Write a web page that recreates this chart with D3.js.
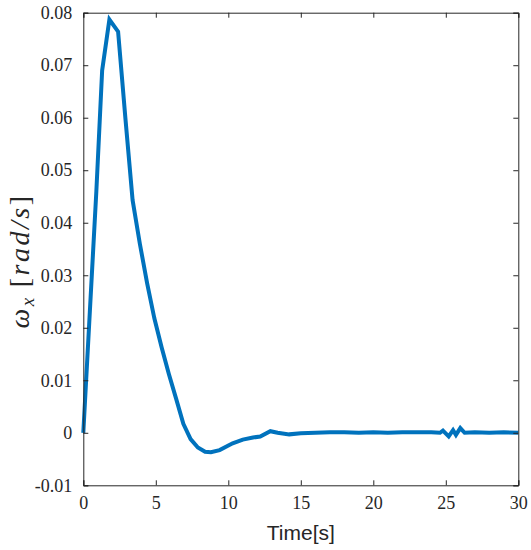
<!DOCTYPE html>
<html>
<head>
<meta charset="utf-8">
<script src="https://cdn.jsdelivr.net/npm/d3@7"></script>
<style>
  html, body { margin: 0; padding: 0; background: #fff; }
  svg { display: block; }
</style>
</head>
<body>
<svg id="chart" width="531" height="550"></svg>
<script>
// Data
const timeValues = [0, 0.45, 0.9, 1.3, 1.8, 2.4, 2.9, 3.4, 3.9, 4.4, 4.9, 5.4, 5.9, 6.4, 6.9, 7.4, 7.9, 8.4, 8.8, 9.4, 10.3, 11.0, 11.7, 12.2, 12.9, 13.4, 14.2, 15, 16, 17, 18, 19, 20, 21, 22, 23, 24, 24.6, 24.8, 25.2, 25.5, 25.7, 26.0, 26.3, 27, 28, 29, 30];
const omegaX =     [0, 0.023, 0.046, 0.069, 0.0787, 0.0764, 0.0600, 0.0443, 0.0360, 0.0285, 0.0218, 0.0163, 0.0112, 0.0065, 0.0017, -0.0012, -0.0028, -0.0036, -0.0037, -0.0033, -0.0020, -0.0013, -0.0009, -0.0007, 0.0003, 0.0000, -0.0003, -0.0001, 0.0000, 0.0001, 0.0001, 0.0000, 0.0001, 0.0000, 0.0001, 0.0001, 0.0001, 0.0000, 0.0004, -0.0007, 0.0005, -0.0004, 0.0009, 0.0000, 0.0001, 0.0000, 0.0001, 0.0000];
const xTicks = [0, 5, 10, 15, 20, 25, 30];
const yTicks = [-0.01, 0, 0.01, 0.02, 0.03, 0.04, 0.05, 0.06, 0.07, 0.08];
const yTickLabels = ["-0.01", "0", "0.01", "0.02", "0.03", "0.04", "0.05", "0.06", "0.07", "0.08"];
const xLabel = "Time[s]";

const svg = d3.select("#chart");
const pLeft = 83.3, pRight = 518.3, pTop = 12.7, pBottom = 485.3;
const axisColor = "#262626";
const lineColor = "#0072BD";

const x = d3.scaleLinear().domain([0, 30]).range([pLeft, pRight]);
const y = d3.scaleLinear().domain([-0.01, 0.08]).range([pBottom, pTop]);

const serif = "Liberation Serif, DejaVu Serif, serif";

const pts = timeValues.map((t, i) => [t, omegaX[i]]);
svg.append("path")
  .datum(pts)
  .attr("fill", "none")
  .attr("stroke", lineColor)
  .attr("stroke-width", 4)
  .attr("stroke-linejoin", "miter")
  .attr("d", d3.line().x(d => x(d[0])).y(d => y(d[1])));

const xAxisB = d3.axisBottom(x).tickValues(xTicks).tickSize(-5).tickPadding(11).tickFormat(d3.format("d"));
const xAxisT = d3.axisTop(x).tickValues(xTicks).tickSize(-5).tickFormat("");
const yAxisL = d3.axisLeft(y).tickValues(yTicks).tickSize(-5).tickPadding(11)
  .tickFormat((d, i) => yTickLabels[i]);
const yAxisR = d3.axisRight(y).tickValues(yTicks).tickSize(-5).tickFormat("");

function style(g) {
  g.attr("font-family", serif).attr("font-size", 18);
  g.selectAll("path.domain").attr("stroke", axisColor).attr("stroke-width", 1);
  g.selectAll(".tick line").attr("stroke", axisColor).attr("stroke-width", 1);
  g.selectAll(".tick text").attr("fill", axisColor)
    .attr("font-family", serif).attr("font-size", 18);
}

svg.append("g").attr("transform", `translate(0,${pBottom})`).call(xAxisB).call(style);
svg.append("g").attr("transform", `translate(0,${pTop})`).call(xAxisT).call(style);
svg.append("g").attr("transform", `translate(${pLeft},0)`).call(yAxisL).call(style);
svg.append("g").attr("transform", `translate(${pRight},0)`).call(yAxisR).call(style);

svg.append("text")
  .attr("x", (pLeft + pRight) / 2)
  .attr("y", 540)
  .attr("text-anchor", "middle")
  .attr("fill", axisColor)
  .attr("font-family", "Liberation Sans, Arial, sans-serif")
  .attr("font-size", 21)
  .text(xLabel);

const yl = svg.append("text")
  .attr("transform", `translate(29,${(pTop + pBottom) / 2 + 12}) rotate(-90)`)
  .attr("text-anchor", "middle")
  .attr("fill", axisColor)
  .attr("font-family", serif)
  .attr("font-style", "italic")
  .attr("font-size", 28)
  .attr("letter-spacing", 2.5);
yl.append("tspan").text("ω");
yl.append("tspan").attr("dy", 5).attr("font-size", 19).text("x");
yl.append("tspan").attr("dy", -5).attr("font-style", "normal").text("\u2009[");
yl.append("tspan").text("rad/s");
yl.append("tspan").attr("font-style", "normal").text("]");
</script>
</body>
</html>
